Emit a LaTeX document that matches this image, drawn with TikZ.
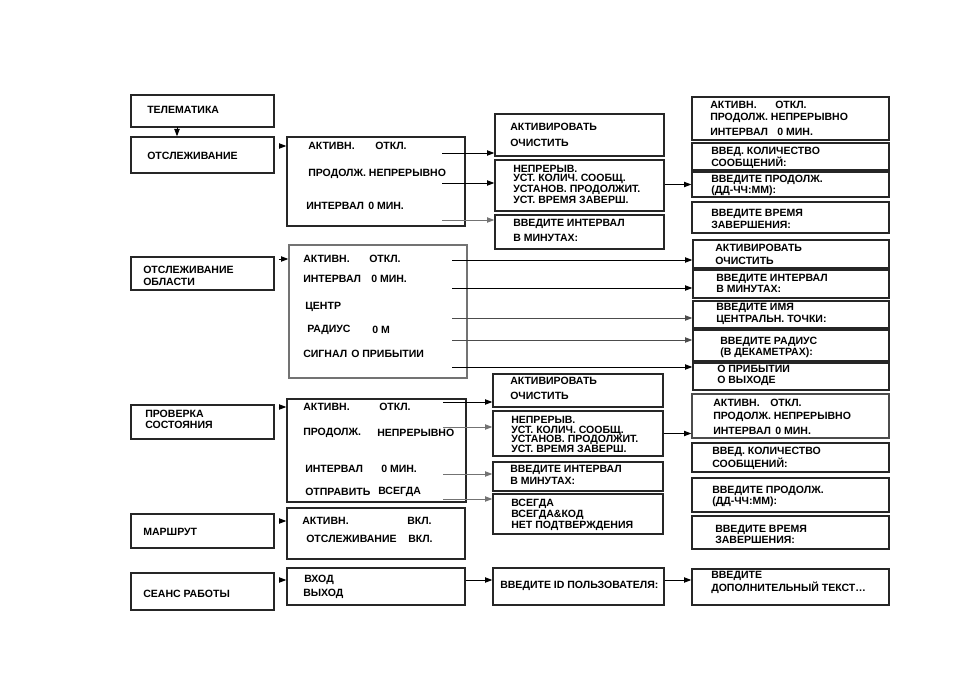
\documentclass[tikz,border=0pt]{standalone}
\usepackage{fontspec}
\setmainfont{Liberation Sans}
\usetikzlibrary{fit,arrows.meta}

\begin{document}
\begin{tikzpicture}[
  x=0.75pt, y=-0.75pt,
  bx/.style={draw=black!85, line width=1pt, inner sep=0pt},
  tx/.style={font=\bfseries\fontsize{7.9}{9}\selectfont, inner sep=0pt, anchor=west, align=left},
  arr/.style={-{Triangle[length=5.5pt,width=4pt]}, line width=0.7pt}
]
\useasboundingbox (0,0) rectangle (954,685);
\foreach \n/\xa/\ya/\xb/\yb/\x/\y/\s/\t in {
 tel/131/95/274/127/147/110/9/{ТЕЛЕМАТИКА},
 trk/131/137/274/173/147/156/9/{ОТСЛЕЖИВАНИЕ},
 are/131/257/274/290/143/276/9/{ОТСЛЕЖИВАНИЕ\\ОБЛАСТИ},
 chk/131/405/274/439/145/419.5/8.25/{ПРОВЕРКА\\СОСТОЯНИЯ},
 rte/131/514/274/548/143/532/9/{МАРШРУТ},
 ses/131/573/274/610/143/594/9/{СЕАНС РАБОТЫ},
 b1/495/114/664/156/510/135/12/{АКТИВИРОВАТЬ\\ОЧИСТИТЬ},
 b2/495/160/664/211/513/184.5/6.9/{НЕПРЕРЫВ.\\УСТ. КОЛИЧ. СООБЩ.\\УСТАНОВ. ПРОДОЛЖИТ.\\УСТ. ВРЕМЯ ЗАВЕРШ.},
 b3/495/215/664/249/513/230.5/11.25/{ВВЕДИТЕ ИНТЕРВАЛ\\В МИНУТАХ:},
 c2/692/143/889/170/711/158/9/{ВВЕД. КОЛИЧЕСТВО\\СООБЩЕНИЙ:},
 c3/692/172/889/197/711/185/8.25/{ВВЕДИТЕ ПРОДОЛЖ.\\(ДД-ЧЧ:ММ):},
 c4/692/202/889/233/711/219/9/{ВВЕДИТЕ ВРЕМЯ\\ЗАВЕРШЕНИЯ:},
 e1/693/240/889/268/715/254/9.75/{АКТИВИРОВАТЬ\\ОЧИСТИТЬ},
 e2/693/270/889/298/716/283.5/8.25/{ВВЕДИТЕ ИНТЕРВАЛ\\В МИНУТАХ:},
 e3/693/301/889/328/716/313.5/9/{ВВЕДИТЕ ИМЯ\\ЦЕНТРАЛЬН. ТОЧКИ:},
 e4/693/330/889/361/720/347.5/8.25/{ВВЕДИТЕ РАДИУС\\(В ДЕКАМЕТРАХ):},
 e5/693/363/889/390/717/375.5/8.25/{О ПРИБЫТИИ\\О ВЫХОДЕ},
 g1/493/374/663/407/510/388/11.25/{АКТИВИРОВАТЬ\\ОЧИСТИТЬ},
 g2/493/411/663/456/511/434.5/7.2/{НЕПРЕРЫВ.\\УСТ. КОЛИЧ. СООБЩ.\\УСТАНОВ. ПРОДОЛЖИТ.\\УСТ. ВРЕМЯ ЗАВЕРШ.},
 g3/493/462/663/491/510/475/9/{ВВЕДИТЕ ИНТЕРВАЛ\\В МИНУТАХ:},
 g4/493/494/663/534/511/515/8.25/{ВСЕГДА\\ВСЕГДА\&КОД\\НЕТ ПОДТВЕРЖДЕНИЯ},
 h2/692/443/889/472/712/458.5/8.25/{ВВЕД. КОЛИЧЕСТВО\\СООБЩЕНИЙ:},
 h3/692/478/889/512/712/496.5/8.25/{ВВЕДИТЕ ПРОДОЛЖ.\\(ДД-ЧЧ:ММ):},
 h4/692/516/889/549/715/534.5/8.25/{ВВЕДИТЕ ВРЕМЯ\\ЗАВЕРШЕНИЯ:},
 k/493/568/664/605/500/586/9/{ВВЕДИТЕ ID ПОЛЬЗОВАТЕЛЯ:},
 l/692/569/889/605/711/582/8.25/{ВВЕДИТЕ\\ДОПОЛНИТЕЛЬНЫЙ ТЕКСТ\ldots}}
{
 \node[bx, fit={(\xa,\ya) (\xb,\yb)}] (\n) {};
 \node[tx, font=\bfseries\fontsize{7.9}{\s}\selectfont] (\n-t) at (\x,\y) {\t};
}
\foreach \n/\xa/\ya/\xb/\yb/\c in {mA/287/137/465/226/black!85, mD/289/245/467/378/black!55,
 mF/287/399/466/502/black!85, mI/287/508/465/559/black!85, mJ/287/568/465/605/black!85,
 c1/692/97/889/140/black!85, h1/692/394/889/438/black!70}
 \node[bx, draw=\c, fit={(\xa,\ya) (\xb,\yb)}] (\n) {};
\foreach \n/\x/\y/\t in {
 a1/308/146/{АКТИВН.}, a1v/375/146/{ОТКЛ.}, a2/308/174/{ПРОДОЛЖ. НЕПРЕРЫВНО}, a3/306/206/{ИНТЕРВАЛ}, a3v/368/206/{0 МИН.},
 d1/303/259/{АКТИВН.}, d1v/369/259/{ОТКЛ.}, d2/303/279/{ИНТЕРВАЛ}, d2v/371/279/{0 МИН.}, d3/305/307/{ЦЕНТР},
 d4/307/330/{РАДИУС}, d4v/372/330/{0 М}, d5/303/354/{СИГНАЛ}, d5v/351/354/{О ПРИБЫТИИ},
 f1/303/407/{АКТИВН.}, f1v/379/407/{ОТКЛ.}, f2/303/433/{ПРОДОЛЖ.}, f2v/377/433/{НЕПРЕРЫВНО},
 f3/305/469/{ИНТЕРВАЛ}, f3v/381/469/{0 МИН.}, f4/305/492/{ОТПРАВИТЬ}, f4v/378/492/{ВСЕГДА},
 i1/302/521/{АКТИВН.}, i1v/407/521/{ВКЛ.}, i2/306/539/{ОТСЛЕЖИВАНИЕ}, i2v/408/539/{ВКЛ.},
 j1/304/580/{ВХОД}, j2/303/594/{ВЫХОД},
 c11/710/105/{АКТИВН.}, c11v/775/105/{ОТКЛ.}, c12/710/118/{ПРОДОЛЖ. НЕПРЕРЫВНО}, c13/710/132/{ИНТЕРВАЛ}, c13v/777/132/{0 МИН.},
 h11/713/403/{АКТИВН.}, h11v/770/403/{ОТКЛ.}, h12/713/417/{ПРОДОЛЖ. НЕПРЕРЫВНО}, h13/713/431/{ИНТЕРВАЛ}, h13v/775/431/{0 МИН.}}
 \node[tx] (\n) at (\x,\y) {\t};
\coordinate (tdn) at (177,127);
\draw[arr] (tdn) -- (tdn |- trk.north);
\foreach \a/\r/\b in {trk/a1/mA, are/d1/mD, chk/f1/mF, rte/i1/mI, ses/j1/mJ}
 \draw[arr, shorten <=3pt] (\a.east |- \r) -- (\b.west |- \r);
\foreach \o/\x/\y/\b/\c in {oa1/442/153/b1/black, oa2/442/183/b2/black, oa3/442/220/b3/black!55,
 od1/452/260/e1/black, od2/452/288/e2/black, od3/452/318/e3/black!70, od4/452/340/e4/black!70, od5/452/367/e5/black,
 of1/443/402/g1/black, of2/443/427/g2/black!55, of3/443/474/g3/black!55, of4/443/499/g4/black!55}
{
 \coordinate (\o) at (\x,\y);
 \draw[arr, color=\c] (\o) -- (\o -| \b.west);
}
\draw[arr] (b2.east |- c3.west) -- (c3.west);
\draw[arr] (g2.east) -- (g2.east -| h1.west);
\draw[arr] (mJ.east |- j1) -- (k.west |- j1);
\draw[arr] (k.east |- j1) -- (l.west |- j1);
\end{tikzpicture}
\end{document}
